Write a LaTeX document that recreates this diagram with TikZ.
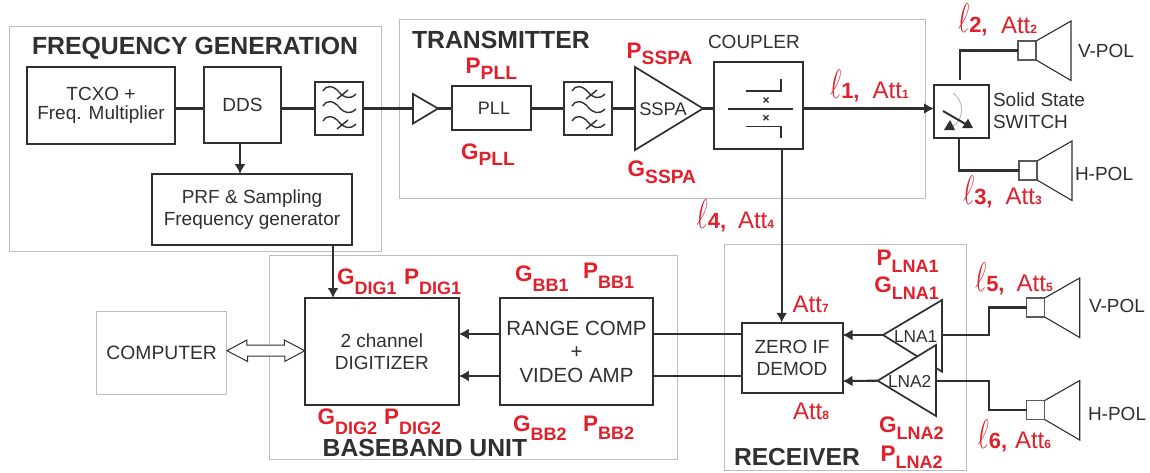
\documentclass[tikz,border=0pt]{standalone}
\usepackage{fontspec}
\setmainfont{Liberation Sans}
\usetikzlibrary{arrows.meta}
\definecolor{ink}{HTML}{303030}
\definecolor{rd}{HTML}{E2202C}
\definecolor{grayline}{HTML}{BDBDBD}
\newcommand{\fs}[1]{\fontsize{#1}{#1}\selectfont}
\newcommand{\GP}[3]{{\fs{22.5}#1}\raisebox{-#3pt}{\fs{18}#2}}
\newcommand{\GPb}[3]{{\fs{22.5}#1}\raisebox{-#3pt}{\fs{19.2}#2}}
\newcommand{\LL}[1]{\scalebox{1.1}[1.65]{\fs{24.88}$\ell$}{\fs{22}\bfseries #1,}}
\newcommand{\AT}[1]{{\fs{24}Att}{\fs{12}\bfseries #1}}
\newcommand{\filtersym}[1]{%
\begin{scope}[shift={(#1.north west)},line width=1.4pt,ink]
\draw (8,9) .. controls (11,3) and (18,3) .. (24,10) .. controls (29,16) and (35,18) .. (41,12);
\draw (8,24) .. controls (11,18) and (18,18) .. (24,25) .. controls (29,31) and (35,33) .. (41,27);
\draw (8,39) .. controls (11,33) and (18,33) .. (24,40) .. controls (29,46) and (35,48) .. (41,42);
\draw (33,8) -- (22,17);
\draw (33,38) -- (22,47);
\end{scope}}
\newcommand{\hornsym}[2]{%
\draw[line width=1.1pt,ink] (#1.north east) -- ++(#2,-20) -- ++(0,59.5) -- (#1.south east);}
\tikzset{
 blk/.style={draw=ink,line width=2pt,fill=white,inner sep=0,outer sep=0,align=center,text=ink,font=\fs{19}\linespread{1}},
 thinblk/.style={blk,line width=1.4pt},
 hornbox/.style={blk,draw=ink!80,line width=1.1pt},
 group/.style={draw=grayline,line width=1pt,inner sep=0,outer sep=0},
 title/.style={anchor=base west,inner sep=0,outer sep=0,text=ink,font=\bfseries},
 plain/.style={anchor=base west,inner sep=0,outer sep=0,text=ink,font=\fs{19}},
 gp/.style={anchor=base west,inner sep=0,outer sep=0,text=rd,font=\bfseries},
 att/.style={anchor=base west,inner sep=0,outer sep=0,text=rd},
 wire/.style={draw=ink,line width=2.1pt},
 arrow/.style={wire,-{Latex[length=10pt,width=11pt]}},
 amp/.style={draw=ink,line width=1.7pt,fill=white,line join=miter},
}
\begin{document}
\begin{tikzpicture}[x=1pt,y=-1pt]
\useasboundingbox (0,0) rectangle (1150,472);
\fill[white] (0,0) rectangle (1150,472);
% groups
\node[group,minimum width=372,minimum height=225] (gfreq) at (195,138.5) {};
\node[group,minimum width=526,minimum height=179] (gtx) at (662,108.5) {};
\node[group,minimum width=408,minimum height=203.5] (gbb) at (473,357.5) {};
\node[group,minimum width=242,minimum height=226] (grx) at (845,357) {};
\node[group,minimum width=130.5,minimum height=83,text=ink,font=\fs{19.3}] (computer) at (161.7,352.5) {COMPUTER};
% reference rows
\coordinate (y1) at (0,108.5);
\coordinate (y2) at (0,334);
\coordinate (y3) at (0,376);
\coordinate (y4) at (0,335);
\coordinate (y5) at (0,381);
\coordinate (y6) at (0,350.7);
\coordinate (swtop) at (960,80);
% boxes
\node[blk,minimum width=148,minimum height=77] (tcxo) at (101,105.5) {TCXO +\\Freq. Multiplier};
\node[blk,minimum width=77,minimum height=76] (dds) at (242.5,105) {DDS};
\node[thinblk,minimum width=48,minimum height=53] (f1) at (339,108.5) {};
\node[blk,minimum width=200,minimum height=71] (prf) at (252,209.5) {PRF \& Sampling\\[3pt]Frequency generator};
\node[thinblk,minimum width=79,minimum height=44,font=\fs{18}] (pll) at (491.5,108) {\hspace{5pt}PLL};
\node[thinblk,minimum width=48,minimum height=53] (f2) at (588,108.5) {};
\node[blk,minimum width=89,minimum height=87] (coupler) at (758.5,105) {};
\node[blk,minimum width=55,minimum height=53] (sw) at (961.5,111.5) {};
\node[blk,minimum width=154,minimum height=107] (dig) at (381.8,351.5) {2 channel\\[3pt]DIGITIZER};
\node[blk,minimum width=153.7,minimum height=107,font=\fs{20.5}] (range) at (576.5,351.5) {RANGE COMP\\[3pt]+\\[3pt]VIDEO AMP};
\node[blk,minimum width=101,minimum height=70.5] (zero) at (792,358) {ZERO IF\\[3pt]DEMOD};
\node[hornbox,minimum width=18,minimum height=19] (h1) at (1027,50.5) {};
\node[hornbox,minimum width=18,minimum height=19] (h2) at (1028,170.5) {};
\node[hornbox,minimum width=18,minimum height=19] (h3) at (1035.7,307.5) {};
\node[hornbox,minimum width=18,minimum height=19] (h4) at (1035.7,410) {};
\hornsym{h1}{35}
\hornsym{h2}{35}
\hornsym{h3}{35}
\hornsym{h4}{35}
\filtersym{f1}
\filtersym{f2}
% amplifiers
\coordinate (buf) at (438,108.5);
\draw[amp] (413,94) -- (buf) -- (413,123.5) -- cycle;
\coordinate (sspa) at (703,108.5);
\draw[amp] (635,67) -- (sspa) -- (635,150) -- cycle;
\node[inner sep=0,text=ink,font=\fs{18.3}] (sspal) at (663,109) {SSPA};
\coordinate (lna1in) at (942,335);
\coordinate (lna1out) at (883,335);
\coordinate (lna2in) at (936,380.7);
\coordinate (lna2out) at (877.7,380.7);
\draw[amp] (lna1out) -- (942,300) -- (942,371.7) -- cycle;
\draw[amp] (lna2out) -- (936,345) -- (936,416) -- cycle;
\node[plain,font=\fs{17.3}] (lna1l) at (894,342.7) {LNA1};
\node[plain,font=\fs{17.3}] (lna2l) at (888,387) {LNA2};
% coupler internals
\begin{scope}[line width=1.3pt,ink]
\draw (745.7,91) -- (781,91) -- (781,79);
\draw (727.7,109) -- (792.7,109);
\draw (745.7,126.7) -- (781,126.7) -- (781,138);
\draw (763.5,97.5) -- (768.5,102.5) (763.5,102.5) -- (768.5,97.5);
\draw (763.5,115.2) -- (768.5,120.2) (763.5,120.2) -- (768.5,115.2);
\end{scope}
% switch internals
\draw[grayline,line width=1pt] (953,93) .. controls (964,101) and (965,118) .. (953,126);
\draw[ink,line width=2pt] (943,111) -- (966.7,124.7);
\fill[ink] (944,130) -- (955,130) -- (950,120) -- cycle;
\fill[ink] (962,128) -- (973,128) -- (968,118.7) -- cycle;
% connectors
\draw[wire] (tcxo.east|-y1) -- (dds.west|-y1);
\draw[wire] (dds.east|-y1) -- (f1.west|-y1);
\draw[wire] (f1.east|-y1) -- (413,108.5);
\draw[wire] (buf) -- (pll.west|-y1);
\draw[wire] (pll.east|-y1) -- (f2.west|-y1);
\draw[wire] (f2.east|-y1) -- (635,108.5);
\draw[wire] (sspa) -- (coupler.west|-y1);
\draw[arrow] (dds.south-|240,0) -- (prf.north-|240,0);
\draw[arrow] (coupler.east|-y1) -- (sw.west|-y1);
\draw[wire] (swtop) |- (h1.west);
\draw[wire] (sw.south-|959,0) |- (h2.west);
\draw[arrow] (coupler.south-|781.7,0) -- (zero.north-|781.7,0);
\draw[arrow] (prf.south-|333,0) -- (dig.north-|333,0);
\draw[arrow] (range.west|-y2) -- (dig.east|-y2);
\draw[arrow] (range.west|-y3) -- (dig.east|-y3);
\draw[wire] (zero.west|-y2) -- (range.east|-y2);
\draw[wire] (zero.west|-y3) -- (range.east|-y3);
\draw[arrow] (lna1out) -- (zero.east|-y4);
\draw[arrow] (lna2out) -- (zero.east|-y5);
\draw[wire] (lna1in) -| (989,307.5) -- (h3.west);
\draw[wire] (lna2in) -| (989,410) -- (h4.west);
\draw[draw=ink,fill=white,line width=1pt] (computer.east|-y6) -- ++(20,-10.7) -- ++(0,5.2) -- ++(37.3,0) -- ++(0,-5.2) -- (dig.west|-y6) -- ++(-20,10.7) -- ++(0,-5.2) -- ++(-37.3,0) -- ++(0,5.2) -- cycle;
% titles and plain labels
\node[title,font=\bfseries\fs{24.8}] (t1) at (32,54) {FREQUENCY GENERATION};
\node[title,font=\bfseries\fs{24.8}] (t2) at (412,48) {TRANSMITTER};
\node[title,font=\bfseries\fs{24.7}] (t3) at (322.7,456.7) {BASEBAND UNIT};
\node[title,font=\bfseries\fs{24.6}] (t4) at (734,465) {RECEIVER};
\node[plain] (tc) at (708,48) {COUPLER};
\node[plain] (s1) at (993,106) {Solid State};
\node[plain] (s2) at (993,128) {SWITCH};
\node[plain] (v1) at (1078,57) {V-POL};
\node[plain] (h1l) at (1075,180) {H-POL};
\node[plain] (v2) at (1089,312.7) {V-POL};
\node[plain] (h2l) at (1088,420) {H-POL};
% red parameters
\node[gp] (p1) at (465.7,73) {\GPb{P}{PLL}{6}};
\node[gp] (p2) at (461,159) {\GPb{G}{PLL}{6}};
\node[gp] (p3) at (626.7,58) {\GPb{P}{SSPA}{6}};
\node[gp] (p4) at (627.7,176) {\GPb{G}{SSPA}{7}};
\node[gp] (p5) at (337,284) {\GP{G}{DIG1}{10}};
\node[gp] (p6) at (404,284) {\GP{P}{DIG1}{10}};
\node[gp] (p7) at (317.6,424) {\GP{G}{DIG2}{10}};
\node[gp] (p8) at (384,424) {\GP{P}{DIG2}{10}};
\node[gp] (p9) at (515,281.7) {\GP{G}{BB1}{10}};
\node[gp] (p10) at (583,278) {\GP{P}{BB1}{10}};
\node[gp] (p11) at (513,431.7) {\GP{G}{BB2}{9}};
\node[gp] (p12) at (583,431) {\GP{P}{BB2}{8}};
\node[gp] (p13) at (876.7,265) {\GP{P}{LNA1}{7}};
\node[gp] (p14) at (874.3,292.3) {\GP{G}{LNA1}{7}};
\node[gp] (p15) at (879,432.7) {\GP{G}{LNA2}{7}};
\node[gp] (p16) at (880.7,461) {\GP{P}{LNA2}{7}};
% losses
\node[gp] (l1) at (830,98) {\LL{1}};
\node[att] (a1) at (872.7,98) {\AT{1}};
\node[gp] (l2) at (958,32.7) {\LL{2}};
\node[att] (a2) at (1001,33) {\AT{2}};
\node[gp] (l3) at (963,204) {\LL{3}};
\node[att] (a3) at (1005.7,204) {\AT{3}};
\node[gp] (l4) at (696.7,228) {\LL{4}};
\node[att] (a4) at (738,228) {\AT{4}};
\node[gp] (l5) at (975,291.7) {\LL{5}};
\node[att] (a5) at (1016.7,291.7) {\AT{5}};
\node[gp] (l6) at (977.7,448) {\LL{6}};
\node[att] (a6) at (1015,448) {\AT{6}};
\node[att] (a7) at (792.7,312.3) {\AT{7}};
\node[att] (a8) at (793,419) {\AT{8}};
\end{tikzpicture}
\end{document}
